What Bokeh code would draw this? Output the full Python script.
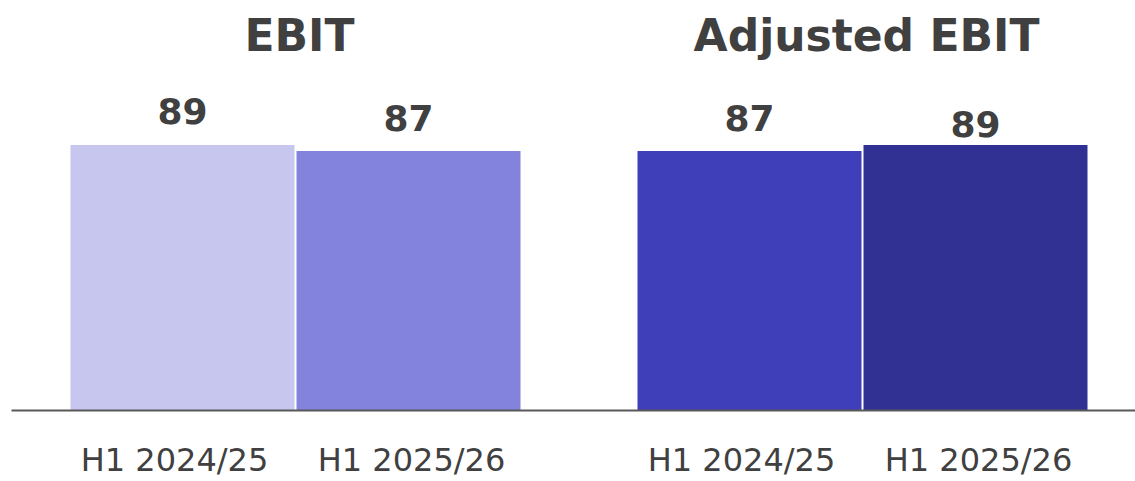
from bokeh.plotting import figure
from bokeh.models import ColumnDataSource, Range1d, FixedTicker, LabelSet
from bokeh.embed import file_html
from bokeh.resources import INLINE
from bokeh.core.properties import value

# ---- data ----
groups = ["EBIT", "Adjusted EBIT"]
periods = ["H1 2024/25", "H1 2025/26"]
ebit = [89, 87]
adjusted_ebit = [87, 89]

# ---- styles ----
colors = ["#C6C6EE", "#8383DE", "#3F3FB9", "#313194"]
label_offsets = [21, 20, 20, 8]   # value label lift above bar top, px
tick_shift = [-8, 3]              # period label nudge, px
TEXT = "#404040"

# ---- layout constants (screen-like units) ----
LEFT_PAD = 59
BAR_W = 224
INNER_GAP = 2
GROUP_GAP = 117
X_END = 1124

series = [ebit, adjusted_ebit]
xs, tops, texts, cols, ticks, tick_labels = [], [], [], [], [], []
group_centers = []
k = 0
for g, vals in enumerate(series):
    gstart = LEFT_PAD + g * (2 * BAR_W + INNER_GAP + GROUP_GAP)
    for i, v in enumerate(vals):
        cx = gstart + i * (BAR_W + INNER_GAP) + BAR_W // 2
        xs.append(cx)
        tops.append(v)
        texts.append(str(v))
        cols.append(colors[k])
        ticks.append(cx + tick_shift[i])
        tick_labels.append(periods[i])
        k += 1
    group_centers.append(gstart + (2 * BAR_W + INNER_GAP) / 2 + 4)

src = ColumnDataSource(dict(x=xs, top=tops, text=texts, color=cols,
                            off=label_offsets))

p = figure(width=1135, height=481, output_backend="svg", toolbar_location=None,
           x_range=Range1d(0, X_END), y_range=Range1d(0, 137.5),
           y_axis_location=None, min_border_left=11, min_border_right=0,
           min_border_top=0, min_border_bottom=70)
p.outline_line_color = None
p.xgrid.visible = False
p.ygrid.visible = False
p.background_fill_color = "white"
p.border_fill_color = "white"

p.vbar(x="x", top="top", bottom=0, width=BAR_W, color="color",
       line_color=None, source=src)

labelset = LabelSet(x="x", y="top", text="text", y_offset="off", source=src,
                    text_align="center", text_baseline="alphabetic",
                    text_font=value("DejaVu Sans"), text_font_style="bold",
                    text_font_size="36px", text_color=TEXT)
p.add_layout(labelset)

p.text(x=group_centers, y=[125.7, 125.7], text=groups, text_align="center",
       text_baseline="alphabetic", text_font=value("DejaVu Sans"),
       text_font_style="bold", text_font_size="44px", text_color=TEXT)

ax = p.xaxis[0]
ax.ticker = FixedTicker(ticks=ticks)
ax.major_label_overrides = {t: lab for t, lab in zip(ticks, tick_labels)}
ax.major_label_text_font = "DejaVu Sans"
ax.major_label_text_font_size = "32px"
ax.major_label_text_line_height = 1.0
ax.major_label_text_color = TEXT
ax.major_label_standoff = 24
ax.major_tick_line_color = None
ax.minor_tick_line_color = None
ax.axis_line_color = "#595959"
ax.axis_line_width = 2

open("out.html", "w").write(file_html(p, INLINE))
